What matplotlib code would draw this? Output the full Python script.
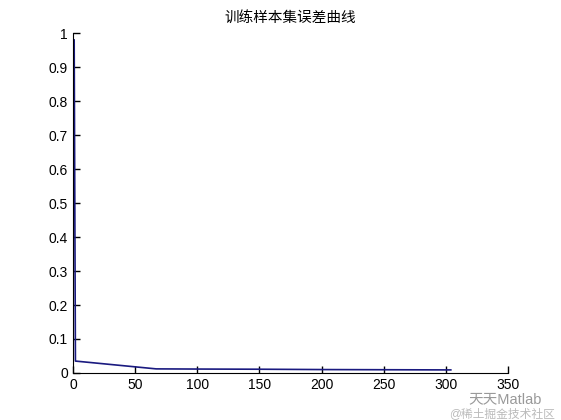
import matplotlib
matplotlib.use("Agg")
import matplotlib.pyplot as plt

plt.rcParams['font.family'] = ['Liberation Sans', 'Noto Sans CJK SC', 'DejaVu Sans']

# training error per epoch (key points)
epochs = [1, 2, 67, 100, 150, 200, 250, 300, 304]
errors = [0.98, 0.035, 0.012, 0.0115, 0.011, 0.010, 0.0095, 0.009, 0.009]

xticks = [0, 50, 100, 150, 200, 250, 300, 350]
yticks = [0, 0.1, 0.2, 0.3, 0.4, 0.5, 0.6, 0.7, 0.8, 0.9, 1]
ylabels = ['0', '0.1', '0.2', '0.3', '0.4', '0.5', '0.6', '0.7', '0.8', '0.9', '1']

fig = plt.figure(figsize=(5.61, 4.2), dpi=100)
ax = fig.add_axes([0.130, 0.112, 0.7755, 0.809])
ax.plot(epochs, errors, color='#1a1a80', lw=1.2)
ax.set_xlim(0, 350)
ax.set_ylim(0, 1)
ax.set_xticks(xticks)
ax.set_yticks(yticks)
ax.set_yticklabels(ylabels)
ax.tick_params(direction='in', length=5, labelsize=10, width=1)
ax.spines['top'].set_visible(False)
ax.spines['right'].set_visible(False)
ax.set_title('训练样本集误差曲线', fontsize=10.5, pad=8)

# watermark
fig.text(0.835, 0.049, '天天Matlab', fontsize=10.5, color='#999999', ha='left', va='center')
fig.text(0.800, 0.015, '@稀土掘金技术社区', fontsize=8.5, color='#bbbbbb', ha='left', va='center')

fig.savefig('out.png', dpi=100)
